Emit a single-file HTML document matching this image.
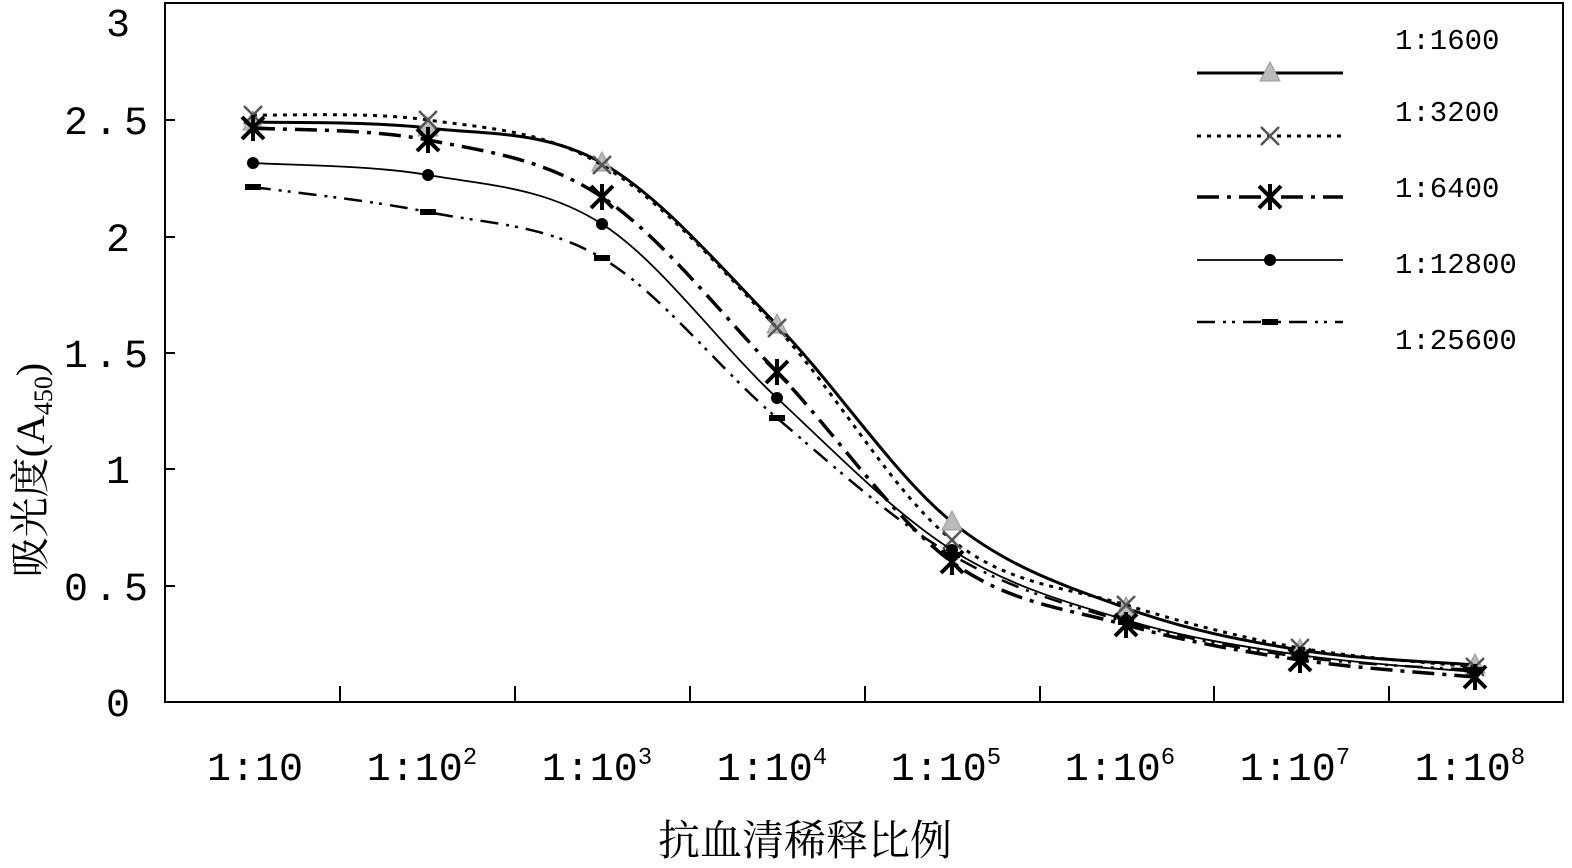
<!DOCTYPE html>
<html><head><meta charset="utf-8"><style>
html,body{margin:0;padding:0;background:#fff;}
svg{display:block}
text{font-family:"Liberation Serif","Noto Serif CJK SC",serif;fill:#000}
.m{font-family:"Liberation Mono",monospace}
</style></head><body>
<svg id="s" width="1572" height="868" xmlns="http://www.w3.org/2000/svg">
<rect x="165" y="3" width="1398" height="699" fill="none" stroke="#000" stroke-width="2"/>
<g stroke="#000" stroke-width="2">
<line x1="340" y1="702" x2="340" y2="686"/><line x1="515" y1="702" x2="515" y2="686"/>
<line x1="690" y1="702" x2="690" y2="686"/><line x1="865" y1="702" x2="865" y2="686"/>
<line x1="1040" y1="702" x2="1040" y2="686"/><line x1="1214" y1="702" x2="1214" y2="686"/>
<line x1="1389" y1="702" x2="1389" y2="686"/>
<line x1="165" y1="120" x2="175" y2="120"/><line x1="165" y1="237" x2="175" y2="237"/>
<line x1="165" y1="353" x2="175" y2="353"/><line x1="165" y1="469" x2="175" y2="469"/>
<line x1="165" y1="586" x2="175" y2="586"/>
</g>
<g font-size="40" text-anchor="end" class="m">
<text class="m" x="130" y="36">3</text><text class="m" x="154" y="134" letter-spacing="6">2.5</text><text class="m" x="130" y="251">2</text>
<text class="m" x="154" y="367" letter-spacing="6">1.5</text><text class="m" x="130" y="483">1</text><text class="m" x="154" y="600" letter-spacing="6">0.5</text>
<text class="m" x="130" y="716">0</text>
</g>
<g font-size="40" text-anchor="middle">
<text class="m" x="255" y="780">1:10</text>
<text class="m" x="422" y="780">1:10<tspan font-size="24" dy="-16">2</tspan></text>
<text class="m" x="597" y="780">1:10<tspan font-size="24" dy="-16">3</tspan></text>
<text class="m" x="772" y="780">1:10<tspan font-size="24" dy="-16">4</tspan></text>
<text class="m" x="946" y="780">1:10<tspan font-size="24" dy="-16">5</tspan></text>
<text class="m" x="1120" y="780">1:10<tspan font-size="24" dy="-16">6</tspan></text>
<text class="m" x="1295" y="780">1:10<tspan font-size="24" dy="-16">7</tspan></text>
<text class="m" x="1470" y="780">1:10<tspan font-size="24" dy="-16">8</tspan></text>
</g>
<text x="805" y="855" font-size="42" text-anchor="middle" font-family="Noto Serif CJK SC,serif">抗血清稀释比例</text>
<text transform="translate(44,470) rotate(-90)" font-size="40" text-anchor="middle" font-family="Noto Serif CJK SC,serif">吸光度(A<tspan font-size="26" dy="8">450</tspan><tspan dy="-8">)</tspan></text>
<g font-size="29">
<text class="m" x="1395" y="49">1:1600</text><text class="m" x="1395" y="121">1:3200</text>
<text class="m" x="1395" y="197">1:6400</text><text class="m" x="1395" y="273">1:12800</text>
<text class="m" x="1395" y="349">1:25600</text>
</g>
<g id="g"></g>
</svg>
<script>
var X=[253,428,602,777,952,1126,1300,1475];
var S=[
{y:[122,128,163,325,522,608,650,665],w:3,d:"",m:"tri",ly:73},
{y:[115,120,165,328,540,605,648,667],w:3,d:"4,6",m:"x",ly:136},
{y:[128,140,197,372,562,625,660,677],w:3.5,d:"22,8,4,8",m:"ast",ly:197},
{y:[163,175,224,398,550,620,655,672],w:1.8,d:"",m:"dot",ly:260},
{y:[187,212,258,418,555,622,657,670],w:2.5,d:"18,8,3,6,3,8",m:"bar",ly:322}];
var ns="http://www.w3.org/2000/svg",g=document.getElementById("g");
function el(t,a){var e=document.createElementNS(ns,t);for(var k in a)e.setAttribute(k,a[k]);g.appendChild(e);return e;}
function mk(t,x,y){
 if(t=="tri")el("path",{d:"M"+x+","+(y-11)+"L"+(x+10)+","+(y+8)+"L"+(x-10)+","+(y+8)+"Z",fill:"#bbb",stroke:"#999"});
 if(t=="x")el("path",{d:"M"+(x-9)+","+(y-9)+"L"+(x+9)+","+(y+9)+"M"+(x+9)+","+(y-9)+"L"+(x-9)+","+(y+9),stroke:"#555","stroke-width":2.5});
 if(t=="ast")el("path",{d:"M"+(x-11)+","+(y-11)+"L"+(x+11)+","+(y+11)+"M"+(x+11)+","+(y-11)+"L"+(x-11)+","+(y+11)+"M"+x+","+(y-13)+"L"+x+","+(y+13),stroke:"#000","stroke-width":4});
 if(t=="dot")el("circle",{cx:x,cy:y,r:6,fill:"#000"});
 if(t=="bar")el("rect",{x:x-8,y:y-3,width:16,height:6,fill:"#000"});
}
S.forEach(function(s){
 var p=X.map(function(x,i){return[x,s.y[i]]});
 var d="M"+p[0];
 for(var i=0;i<p.length-1;i++){
  var p0=p[i-1]||p[i],p1=p[i],p2=p[i+1],p3=p[i+2]||p2;
  var c1=[p1[0]+(p2[0]-p0[0])/6,p1[1]+(p2[1]-p0[1])/6],c2=[p2[0]-(p3[0]-p1[0])/6,p2[1]-(p3[1]-p1[1])/6];
  d+="C"+c1+" "+c2+" "+p2;
 }
 el("path",{d:d,fill:"none",stroke:"#000","stroke-width":s.w,"stroke-dasharray":s.d});
 p.forEach(function(q){mk(s.m,q[0],q[1])});
 el("line",{x1:1197,y1:s.ly,x2:1343,y2:s.ly,stroke:"#000","stroke-width":s.w,"stroke-dasharray":s.d});
 mk(s.m,1270,s.ly);
});
</script>
</body></html>
